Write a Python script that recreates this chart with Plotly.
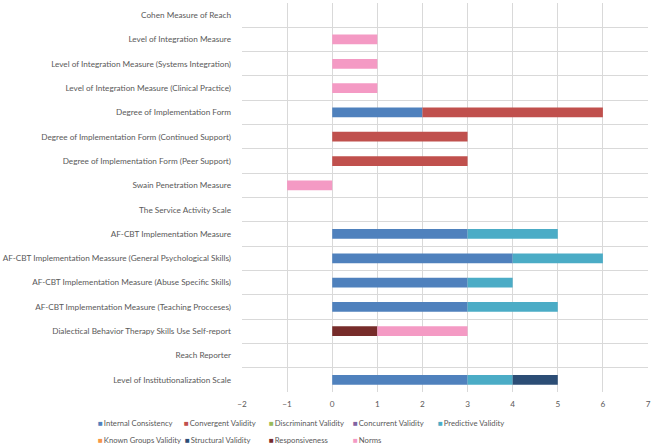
import plotly.graph_objects as go

categories = [
    "Cohen Measure of Reach",
    "Level of Integration Measure",
    "Level of Integration Measure (Systems Integration)",
    "Level of Integration Measure (Clinical Practice)",
    "Degree of Implementation Form",
    "Degree of Implementation Form (Continued Support)",
    "Degree of Implementation Form (Peer Support)",
    "Swain Penetration Measure",
    "The Service Activity Scale",
    "AF-CBT Implementation Measure",
    "AF-CBT Implementation Meassure (General Psychological Skills)",
    "AF-CBT Implementation Measure (Abuse Specific Skills)",
    "AF-CBT Implementation Measure (Teaching Procceses)",
    "Dialectical Behavior Therapy Skills Use Self-report",
    "Reach Reporter",
    "Level of Institutionalization Scale",
]

internal_consistency = [0, 0, 0, 0, 2, 0, 0, 0, 0, 3, 4, 3, 3, 0, 0, 3]
convergent_validity = [0, 0, 0, 0, 4, 3, 3, 0, 0, 0, 0, 0, 0, 0, 0, 0]
discriminant_validity = [0] * 16
concurrent_validity = [0] * 16
predictive_validity = [0, 0, 0, 0, 0, 0, 0, 0, 0, 2, 2, 1, 2, 0, 0, 1]
known_groups_validity = [0] * 16
structural_validity = [0, 0, 0, 0, 0, 0, 0, 0, 0, 0, 0, 0, 0, 0, 0, 1]
responsiveness = [0, 0, 0, 0, 0, 0, 0, 0, 0, 0, 0, 0, 0, 1, 0, 0]
norms = [0, 1, 1, 1, 0, 0, 0, -1, 0, 0, 0, 0, 0, 2, 0, 0]

series_names = [
    "Internal Consistency", "Convergent Validity", "Discriminant Validity",
    "Concurrent Validity", "Predictive Validity", "Known Groups Validity",
    "Structural Validity", "Responsiveness", "Norms",
]
series_values = [
    internal_consistency, convergent_validity, discriminant_validity,
    concurrent_validity, predictive_validity, known_groups_validity,
    structural_validity, responsiveness, norms,
]
series_colors = [
    "#4F81BD", "#C0504D", "#9BBB59", "#8064A2", "#4BACC6",
    "#F79646", "#2C4D75", "#772C2A", "#F49AC4",
]

x_ticks = [-2, -1, 0, 1, 2, 3, 4, 5, 6, 7]

# legend layout (pixel positions of each entry's left edge, row centres)
W, H = 652, 446
ML, MR, MT, MB = 242, 4, 3, 54
legend_px_x = [96, 182, 267, 351, 436, 96, 183, 267, 351]
legend_px_y = [423, 423, 423, 423, 423, 440, 440, 440, 440]

fig = go.Figure()
for name, vals, color in zip(series_names, series_values, series_colors):
    fig.add_trace(go.Bar(
        y=categories, x=vals, name=name, orientation="h",
        marker=dict(color=color, line=dict(width=0)), width=0.4,
        showlegend=False,
    ))

pw = W - ML - MR
ph = H - MT - MB
for name, color, px, py in zip(series_names, series_colors, legend_px_x, legend_px_y):
    fig.add_annotation(
        xref="paper", yref="paper",
        x=(px - ML) / pw, y=(H - MB - py) / ph,
        xanchor="left", yanchor="middle", showarrow=False,
        text=f'<span style="color:{color};font-size:8px">■</span>\u2009{name}',
        font=dict(size=7.7, color="#595959"),
    )

font_fam = "Lato, 'Open Sans', sans-serif"
fig.update_layout(
    width=W, height=H,
    barmode="relative",
    plot_bgcolor="white", paper_bgcolor="white",
    margin=dict(l=ML, r=MR, t=MT, b=MB, autoexpand=False),
    font=dict(family=font_fam, size=8.2, color="#595959"),
    showlegend=False,
    xaxis=dict(
        range=[-2, 7], tickvals=x_ticks, showgrid=True, gridcolor="#D9D9D9",
        gridwidth=1, zeroline=False, showline=False, ticks="",
        tickfont=dict(size=8.2, color="#595959"), ticklabelstandoff=6,
    ),
    yaxis=dict(
        type="category", categoryorder="array", categoryarray=categories,
        autorange="reversed", tickson="boundaries", showgrid=True,
        gridcolor="#D9D9D9", gridwidth=1, ticks="", showline=False,
        tickfont=dict(size=8.2, color="#595959"), ticklabelstandoff=10,
    ),
)

fig.write_html(
    "out.html",
    config={"displayModeBar": False},
    post_script="document.body.style.margin='0';",
)
